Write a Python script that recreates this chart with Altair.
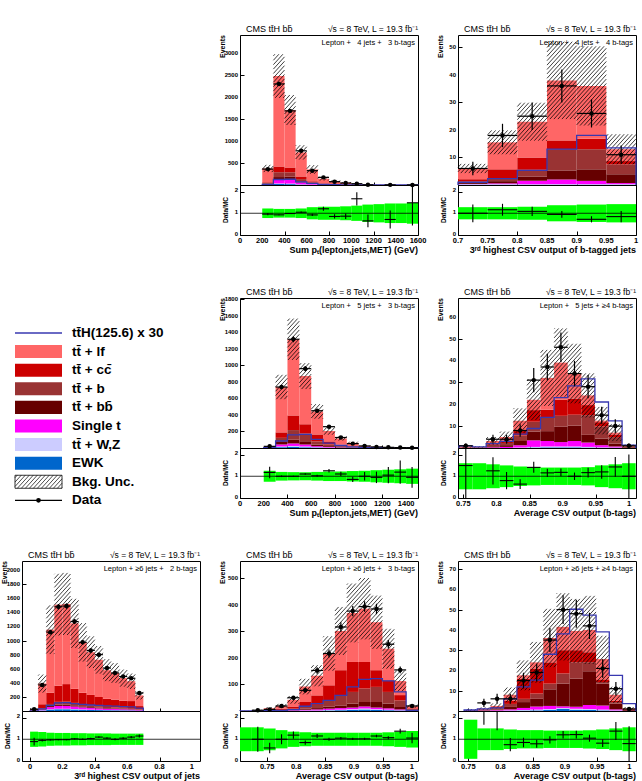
import math
import altair as alt
import pandas as pd

# ---------------- values ----------------
# stacking order bottom -> top : EWK, tt+W/Z, single t, tt+bb, tt+b, tt+cc, tt+lf
A_lf = [313, 2050, 1303, 546, 268, 107, 65, 39, 13.2, 5.5, 3.5, 3, 2.3, 0.95]
A_cc = [15, 130, 110, 60, 25, 11, 7, 4, 1.5, 0.7, 0.5, 0.3, 0.2, 0.1]
A_b = [15, 110, 100, 50, 20, 9, 6, 3, 1.2, 0.5, 0.3, 0.3, 0.2, 0.1]
A_bb = [10, 50, 50, 25, 12, 5, 3, 2, 0.7, 0.3, 0.2, 0.2, 0.1, 0.1]
A_st = [15, 95, 105, 45, 20, 8, 5, 3, 1, 0.5, 0.3, 0.3, 0.2, 0.1]
A_ttv = [2, 10, 12, 6, 3, 1.5, 1, 0.5, 0.2, 0.1, 0.1, 0.1, 0, 0]
A_ewk = [5, 25, 20, 8, 4, 2, 1, 0.5, 0.2, 0.1, 0.1, 0, 0, 0]
A_tth = [15, 125, 130, 70, 35, 15, 8, 4, 2, 1, 0.6, 0.4, 0.2, 0.1]
A_data = [360, 2290, 1680, 775, 325, 173, 75, 45, 30, 5, 0, 3, 0, 2]
A_unc = [0.22, 0.2, 0.2, 0.22, 0.28, 0.3, 0.3, 0.32, 0.35, 0.4, 0.42, 0.45, 0.45, 0.48]

B_lf = [3.9, 9.8, 13, 21.8, 19.2, 4.3]
B_cc = [0.8, 3.5, 4.5, 3.2, 3.8, 1.2]
B_b = [0.4, 0.8, 2.5, 7.7, 7.3, 3.6]
B_bb = [0.5, 0.8, 1.5, 3.3, 4.2, 3.2]
B_st = [0.1, 0.3, 1.2, 1.7, 1.2, 0.4]
B_ttv = [0.2, 0.2, 0.2, 0.2, 0.2, 0.2]
B_ewk = [0.1, 0.1, 0.1, 0.1, 0.1, 0.1]
B_tth = [1, 2.3, 5.3, 13, 18, 13.5]
B_data = [6, 18, 25, 36, 26, 11]
B_unc = [0.28, 0.28, 0.3, 0.37, 0.4, 0.42]

C_lf = [10.9, 549, 922, 583, 278, 126, 75, 43, 17, 9.8, 5.5, 2.8, 2.8]
C_cc = [2, 66, 177, 111, 84, 37, 18, 8, 3, 1.5, 0.8, 0.5, 0.5]
C_b = [1.5, 50, 117, 94, 40, 20, 10, 5, 2, 1, 0.5, 0.3, 0.3]
C_bb = [1, 30, 45, 39, 18, 10, 5, 2, 1, 0.5, 0.3, 0.2, 0.2]
C_st = [1, 25, 30, 25, 12, 8, 4, 2, 1, 0.5, 0.3, 0.2, 0.2]
C_ttv = [0.3, 8, 10, 8, 4, 2, 1, 1, 0.5, 0.2, 0.1, 0.1, 0.1]
C_ewk = [0.3, 10, 15, 10, 6, 3, 2, 1, 0.5, 0.2, 0.1, 0.1, 0.1]
C_tth = [3, 85, 160, 165, 105, 60, 30, 14, 7, 4, 2, 1, 0.5]
C_data = [20, 738, 1316, 960, 451, 258, 127, 53, 25, 13, 8, 5, 4]
C_unc = [0.25, 0.2, 0.19, 0.18, 0.2, 0.22, 0.22, 0.24, 0.25, 0.28, 0.3, 0.32, 0.35]

D_lf = [0.27, 0.2, 0.9, 1.7, 4.3, 4.7, 14.5, 16.9, 11.4, 4.4, 0.7, 0.8, 0.2]
D_cc = [0.1, 0.1, 0.8, 1, 2.5, 5.3, 3.8, 7.4, 7.4, 4.6, 2, 1.2, 0.2]
D_b = [0.1, 0.1, 0.7, 1, 2.5, 4.5, 6, 5, 5, 9, 5.5, 3, 0.3]
D_bb = [0.1, 0.1, 0.5, 0.8, 2, 4, 4.5, 7, 7, 3.5, 3, 1.3, 0.3]
D_st = [0.1, 0, 0.3, 0.5, 1, 3, 2.5, 2, 2.5, 2, 1, 0.5, 0]
D_ttv = [0, 0, 0, 0, 0.2, 0.3, 0.4, 0.4, 0.4, 0.3, 0.2, 0.1, 0]
D_ewk = [0, 0, 0, 0, 0, 0.2, 0.3, 0.3, 0.3, 0.2, 0.1, 0.1, 0]
D_tth = [1, 0.5, 2, 3, 6.3, 8.9, 14, 23, 28.4, 31.6, 21, 12.4, 1.3]
D_data = [1, 0, 4, 4, 8, 31, 37, 46, 34, 28, 15, 10, 1]
D_unc = [0.6, 0.6, 0.55, 0.5, 0.45, 0.42, 0.4, 0.4, 0.4, 0.42, 0.5, 0.55, 0.6]

E_lf = [22.5, 293, 895, 1150, 1138, 930, 716, 607, 528, 407, 378, 321, 282, 152]
E_cc = [2, 60, 160, 230, 250, 200, 165, 150, 130, 115, 110, 100, 100, 45]
E_b = [1, 10, 30, 38, 40, 34, 28, 24, 21, 18, 16, 14, 13, 8]
E_bb = [0.5, 5, 15, 20, 20, 18, 15, 12, 11, 9, 8, 7, 6, 4]
E_st = [1, 12, 30, 40, 40, 35, 28, 23, 20, 17, 15, 13, 12, 7]
E_ttv = [0, 2, 5, 7, 7, 6, 5, 4, 4, 3, 3, 3, 2, 1]
E_ewk = [1, 8, 20, 25, 25, 22, 18, 15, 13, 11, 10, 9, 8, 5]
E_tth = [2, 30, 80, 115, 118, 105, 95, 85, 80, 72, 68, 62, 58, 40]
E_data = [25, 370, 1120, 1480, 1490, 1270, 975, 860, 800, 610, 540, 490, 465, 255]
E_unc = [0.35, 0.33, 0.3, 0.29, 0.29, 0.28, 0.28, 0.27, 0.27, 0.27, 0.26, 0.26, 0.26, 0.26]

F_lf = [0.5, 1.7, 6, 10.8, 25, 58, 74, 120, 148, 185, 201, 181, 119, 53, 8]
F_cc = [0, 0.5, 2, 4, 8, 17, 36, 56, 95, 113, 100, 63, 44, 20, 3]
F_b = [0, 0.4, 1, 2, 4, 8, 12, 25, 38, 44, 51, 57, 44, 25, 4]
F_bb = [0, 0.2, 0.5, 1, 2, 4, 5, 7, 10, 15, 17, 21, 18, 9, 2]
F_st = [0, 0.2, 0.5, 1, 2, 3, 4, 5, 6, 6, 8, 6, 5, 3, 0.5]
F_ttv = [0, 0, 0, 0.2, 0.5, 1, 1, 2, 2, 3, 3, 3, 2, 1, 0.2]
F_ewk = [0, 0, 0, 0, 0.5, 1, 1, 2, 3, 4, 6, 4, 3, 2, 0.3]
F_tth = [0.2, 0.5, 1, 2, 5, 18, 28, 40, 59, 91, 119, 122, 114, 72, 2]
F_data = [0, 3, 6, 19, 50, 78, 153, 217, 317, 377, 394, 385, 252, 155, 19]
F_unc = [0.55, 0.55, 0.5, 0.42, 0.35, 0.32, 0.3, 0.3, 0.3, 0.3, 0.3, 0.3, 0.32, 0.35, 0.38]

G_lf = [0.1, 0.3, 0.6, 3, 1.6, 3, 12, 11.5, 9.5, 11, 10, 3, 0.25]
G_cc = [0.1, 0.2, 0.5, 1.5, 10, 12.4, 10.5, 11.5, 6, 5, 1.3, 0.6, 0.2]
G_b = [0.1, 0.3, 0.6, 1.5, 1.6, 2.6, 2.8, 5, 8, 4.4, 0.8, 0.8, 0.3]
G_bb = [0.1, 0.2, 0.4, 1.2, 2.9, 3.8, 8.2, 11.2, 13.9, 16.6, 10.8, 2.8, 0.4]
G_st = [0.1, 0.2, 0.3, 0.5, 1, 1.5, 1.5, 0.8, 1, 2, 2, 0.5, 0.1]
G_ttv = [0, 0, 0.1, 0.2, 0.3, 0.4, 0.5, 0.5, 0.6, 0.5, 0.4, 0.2, 0]
G_ewk = [0, 0, 0, 0.1, 0.2, 0.3, 0.5, 1, 0.5, 0.5, 0.3, 0.1, 0]
G_tth = [0.5, 1, 1.5, 6, 11.9, 15.2, 28, 38, 50.2, 47.3, 39, 17.6, 3.6]
G_data = [0, 4, 6, 6, 15, 19, 35, 50, 48, 42, 21, 11, 1]
G_unc = [0.9, 0.5, 0.5, 0.45, 0.42, 0.42, 0.4, 0.4, 0.4, 0.42, 0.45, 0.5, 0.55]

# tick labels
A_xticks = [0, 200, 400, 600, 800, 1000, 1200, 1400, 1600]
A_yticks = [500, 1000, 1500, 2000, 2500, 3000]
B_xticks = [0.7, 0.75, 0.8, 0.85, 0.9, 0.95, 1]
B_yticks = [10, 20, 30, 40, 50]
C_xticks = [0, 200, 400, 600, 800, 1000, 1200, 1400]
C_yticks = [200, 400, 600, 800, 1000, 1200, 1400, 1600, 1800]
D_xticks = [0.75, 0.8, 0.85, 0.9, 0.95, 1]
D_yticks = [10, 20, 30, 40, 50, 60]
E_xticks = [0, 0.2, 0.4, 0.6, 0.8, 1]
E_yticks = [200, 400, 600, 800, 1000, 1200, 1400, 1600, 1800, 2000]
F_xticks = [0.75, 0.8, 0.85, 0.9, 0.95, 1]
F_yticks = [100, 200, 300, 400, 500]
G_xticks = [0.75, 0.8, 0.85, 0.9, 0.95, 1]
G_yticks = [10, 20, 30, 40, 50, 60, 70]
R_yticks = [0, 1, 2]

COMPS = ["EWK", "tt+W,Z", "Single t", "tt+bb", "tt+b", "tt+cc", "tt+lf"]
COLORS = ["#0066cc", "#ccccff", "#ff00ff", "#660000", "#993333", "#cc0000", "#ff6666"]

LEG_LABELS = ["tt\u0304H(125.6) x 30", "tt\u0304 + lf", "tt\u0304 + cc\u0304", "tt\u0304 + b",
              "tt\u0304 + bb\u0304", "Single t", "tt\u0304 + W,Z", "EWK", "Bkg. Unc.", "Data"]
LEG_COMPS = ["tt+lf", "tt+cc", "tt+b", "tt+bb", "Single t", "tt+W,Z", "EWK"]

# ---------------- style / layout ----------------
W, HM, HR, GAP = 178, 150, 50, 63
RMAX = 2.3
FONT = "Liberation Sans"
TTH_COLOR = "#3838b0"
BAND = "#00ff00"
HDR_L = "CMS tt\u0304H bb\u0304"
HDR_R = "\u221as = 8 TeV, L = 19.3 fb\u207b\u00b9"
SP = "\u2007"


def fmt(v):
    return f"{v:g}"


def hatch(rects, xdom, ydom, w, h, step=4.0, slope=1.1, clip=True):
    sx = w / (xdom[1] - xdom[0])
    sy = h / (ydom[1] - ydom[0])
    out = []
    for x0, x1, y0, y1 in rects:
        if clip:
            y0 = max(y0, ydom[0]); y1 = min(y1, ydom[1])
            x0 = max(x0, xdom[0]); x1 = min(x1, xdom[1])
        if y1 <= y0 or x1 <= x0:
            continue
        px0, px1 = (x0 - xdom[0]) * sx, (x1 - xdom[0]) * sx
        py0, py1 = (y0 - ydom[0]) * sy, (y1 - ydom[0]) * sy
        kmin = math.floor((px0 - py1 / slope) / step) - 1
        kmax = math.ceil((px1 - py0 / slope) / step) + 1
        for k in range(kmin, kmax + 1):
            c = k * step
            xa = max(px0, c + py0 / slope)
            xb = min(px1, c + py1 / slope)
            if xb - xa < 0.1:
                continue
            out.append({"xa": xdom[0] + xa / sx, "xb": xdom[0] + xb / sx,
                        "ya": ydom[0] + slope * (xa - c) / sy,
                        "yb": ydom[0] + slope * (xb - c) / sy})
    return out


def txt(s, x, y, align, size, weight="normal", baseline="alphabetic", angle=0):
    return alt.Chart(alt.Data(values=[{"t": s}])).mark_text(
        align=align, baseline=baseline, fontSize=size, font=FONT, angle=angle,
        fontWeight=weight, color="black").encode(
        text="t:N", x=alt.value(x), y=alt.value(y))


def ylabels(ticks, sc, size=6, dy=0):
    df = pd.DataFrame({"v": ticks, "s": [fmt(t) for t in ticks]})
    return alt.Chart(df).mark_text(align="right", baseline="middle", fontSize=size, dy=dy,
                                   fontWeight="bold", font=FONT, color="black").encode(
        x=alt.value(-2), y=alt.Y("v:Q", scale=sc), text="s:N")


def xlabels(ticks, sc, h, size=7.5):
    df = pd.DataFrame({"v": ticks, "s": [fmt(t) for t in ticks]})
    return alt.Chart(df).mark_text(align="center", baseline="top", fontSize=size,
                                   fontWeight="bold", font=FONT, color="black").encode(
        x=alt.X("v:Q", scale=sc), y=alt.value(h + 2), text="s:N")


def panel(comps, tth, data, unc, start, step, xdom, ydom, yticks, xticks, xtitle, label):
    n = len(data)
    edges = [start + i * step for i in range(n + 1)]
    stack_rows, totals = [], []
    for i in range(n):
        cum = 0.0
        for name, arr in zip(COMPS, comps):
            v = arr[i]
            if v > 0:
                stack_rows.append({"x0": edges[i], "x1": edges[i + 1],
                                   "y0": cum, "y1": cum + v, "comp": name})
            cum += v
        totals.append(cum)
    rects = [(edges[i], edges[i + 1], totals[i] * (1 - unc[i]), totals[i] * (1 + unc[i]))
             for i in range(n) if totals[i] > 0]
    df_h = pd.DataFrame(hatch(rects, xdom, ydom, W, HM))
    tth_rows = [{"x": edges[0], "y": 0, "o": 0}]
    for i in range(n):
        tth_rows.append({"x": edges[i], "y": tth[i], "o": i + 1})
    tth_rows.append({"x": edges[n], "y": tth[n - 1], "o": n + 1})
    tth_rows.append({"x": edges[n], "y": 0, "o": n + 2})
    pts, rat, band = [], [], []
    for i in range(n):
        c = 0.5 * (edges[i] + edges[i + 1])
        band.append({"x0": edges[i], "x1": edges[i + 1],
                     "lo": max(0.0, 1 - unc[i]), "hi": min(RMAX, 1 + unc[i])})
        d = data[i]
        if d > 0:
            e = math.sqrt(d)
            pts.append({"c": c, "x0": edges[i], "x1": edges[i + 1], "d": d,
                        "lo": d - e, "hi": d + e})
            r, re = d / totals[i], e / totals[i]
            rat.append({"c": c, "x0": edges[i], "x1": edges[i + 1], "r": r,
                        "lo": max(0.0, r - re), "hi": r + re})
    df_s, df_t = pd.DataFrame(stack_rows), pd.DataFrame(tth_rows)
    df_p, df_r, df_b = pd.DataFrame(pts), pd.DataFrame(rat), pd.DataFrame(band)

    xsc = alt.Scale(domain=xdom, nice=False, zero=False)
    ysc = alt.Scale(domain=ydom, nice=False, zero=False)
    rsc = alt.Scale(domain=[0, RMAX], nice=False, zero=False)

    xm_axis = alt.Axis(labels=False, title=None, values=xticks, tickSize=3, offset=-3,
                       domain=False, grid=False)
    ym_axis = alt.Axis(labels=False, title=None, values=yticks, tickSize=4, offset=-4,
                       domain=False, grid=False)
    stack = alt.Chart(df_s).mark_rect().encode(
        x=alt.X("x0:Q", scale=xsc, axis=xm_axis), x2="x1:Q",
        y=alt.Y("y0:Q", scale=ysc, axis=ym_axis), y2="y1:Q",
        color=alt.Color("comp:N", scale=alt.Scale(domain=COMPS, range=COLORS), legend=None))
    hat = alt.Chart(df_h).mark_rule(color="black", strokeWidth=0.75).encode(
        x=alt.X("xa:Q", scale=xsc), x2="xb:Q", y=alt.Y("ya:Q", scale=ysc), y2="yb:Q")
    line = alt.Chart(df_t).mark_line(interpolate="step-after", color=TTH_COLOR,
                                     strokeWidth=1.3).encode(
        x=alt.X("x:Q", scale=xsc), y=alt.Y("y:Q", scale=ysc), order="o:Q")
    ev = alt.Chart(df_p).mark_rule(color="black", strokeWidth=1.2).encode(
        x=alt.X("c:Q", scale=xsc), y=alt.Y("lo:Q", scale=ysc), y2="hi:Q")
    eh = alt.Chart(df_p).mark_rule(color="black", strokeWidth=1.2).encode(
        x=alt.X("x0:Q", scale=xsc), x2="x1:Q", y=alt.Y("d:Q", scale=ysc))
    dots = alt.Chart(df_p).mark_circle(color="black", opacity=1, size=20).encode(
        x=alt.X("c:Q", scale=xsc), y=alt.Y("d:Q", scale=ysc))
    main = alt.layer(stack, hat, line, ev, eh, dots, ylabels(yticks, ysc),
                     txt("Events", -17, 0, "right", 7, "bold", "middle", 270),
                     txt(HDR_L, 6, -3, "left", 9),
                     txt(HDR_R, W, -3, "right", 8.5),
                     txt(label, W - 3, 10, "right", 7.5)).properties(width=W, height=HM)

    xr_axis = alt.Axis(labels=False, title=None, values=xticks, tickSize=4, offset=-4,
                       domain=False, grid=False)
    yr_axis = alt.Axis(labels=False, title=None, values=R_yticks, tickSize=4, offset=-4,
                       domain=False, grid=False)
    bnd = alt.Chart(df_b).mark_rect(color=BAND).encode(
        x=alt.X("x0:Q", scale=xsc, axis=xr_axis), x2="x1:Q",
        y=alt.Y("lo:Q", scale=rsc, axis=yr_axis), y2="hi:Q")
    one = alt.Chart(alt.Data(values=[{"v": 1}])).mark_rule(
        color="black", strokeWidth=0.8).encode(y=alt.Y("v:Q", scale=rsc))
    rv = alt.Chart(df_r).mark_rule(color="black", strokeWidth=1.1, clip=True).encode(
        x=alt.X("c:Q", scale=xsc), y=alt.Y("lo:Q", scale=rsc), y2="hi:Q")
    rh = alt.Chart(df_r).mark_rule(color="black", strokeWidth=1.1, clip=True).encode(
        x=alt.X("x0:Q", scale=xsc), x2="x1:Q", y=alt.Y("r:Q", scale=rsc))
    ratio = alt.layer(bnd, one, rv, rh, ylabels(R_yticks, rsc, dy=-1.5),
                      xlabels(xticks, xsc, HR),
                      txt("Data/MC", -14, HR / 2, "center", 6.5, "bold", "middle", 270),
                      txt(xtitle, W, HR + 14.5, "right", 9, "bold", "middle")
                      ).properties(width=W, height=HR)
    return main, ratio


def legend():
    top = 1.88
    lysc = alt.Scale(domain=[top - HM / 18.6, top], nice=False, zero=False)
    lxsc = alt.Scale(domain=[0, W], nice=False, zero=False)
    rows = [{"v": -(i + 1), "lo": -(i + 1) - 0.35, "hi": -(i + 1) + 0.35, "comp": c}
            for i, c in enumerate(LEG_COMPS)]
    sw = alt.Chart(pd.DataFrame(rows)).mark_rect().encode(
        x=alt.value(-7), x2=alt.value(40),
        y=alt.Y("lo:Q", scale=lysc, axis=None), y2="hi:Q",
        color=alt.Color("comp:N", scale=alt.Scale(domain=COMPS, range=COLORS), legend=None))
    tl = alt.Chart(alt.Data(values=[{"v": 0}])).mark_rule(
        color=TTH_COLOR, strokeWidth=1.5).encode(
        x=alt.value(-7), x2=alt.value(40), y=alt.Y("v:Q", scale=lysc, axis=None))
    unc_box = alt.Chart(alt.Data(values=[{"lo": -8.35, "hi": -7.65}])).mark_rect(
        fill="white", stroke="black", strokeWidth=0.8).encode(
        x=alt.value(-7), x2=alt.value(40),
        y=alt.Y("lo:Q", scale=lysc, axis=None), y2="hi:Q")
    segs = hatch([(-7, 40, -8.35, -7.65)], [0, W], lysc.domain, W, HM, clip=False)
    uh = alt.Chart(pd.DataFrame(segs)).mark_rule(color="black", strokeWidth=0.7).encode(
        x=alt.X("xa:Q", scale=lxsc, axis=None), x2="xb:Q",
        y=alt.Y("ya:Q", scale=lysc, axis=None), y2="yb:Q")
    dl = alt.Chart(alt.Data(values=[{"v": -9}])).mark_rule(
        color="black", strokeWidth=1.2).encode(
        x=alt.value(-7), x2=alt.value(40), y=alt.Y("v:Q", scale=lysc, axis=None))
    dp = alt.Chart(alt.Data(values=[{"v": -9}])).mark_circle(
        color="black", opacity=1, size=22).encode(
        x=alt.value(16.5), y=alt.Y("v:Q", scale=lysc, axis=None))
    labs = alt.Chart(pd.DataFrame({"t": LEG_LABELS, "v": [-i for i in range(len(LEG_LABELS))]})
                     ).mark_text(align="left", baseline="middle", fontSize=13.5,
                                 fontWeight="bold", font=FONT, color="black").encode(
        x=alt.value(50), y=alt.Y("v:Q", scale=lysc, axis=None), text="t:N")
    return alt.layer(sw, tl, unc_box, uh, dl, dp, labs).properties(
        width=W, height=HM, view=alt.ViewBackground(stroke="transparent"))


def blank(h):
    return alt.Chart(alt.Data(values=[{"a": 0}])).mark_point(opacity=0).encode(
        x=alt.value(0), y=alt.value(0)).properties(
        width=W, height=h, view=alt.ViewBackground(stroke="transparent"))


TPT = "Sum p\u209c(lepton,jets,MET) (GeV)"
AVG = "Average CSV output (b-tags)"

mA, rA = panel([A_ewk, A_ttv, A_st, A_bb, A_b, A_cc, A_lf], A_tth, A_data, A_unc,
               200, 100, [0, 1600], [0, 3400], A_yticks, A_xticks, TPT,
               "Lepton + " + SP + "4 jets + " + SP + "3 b-tags")
mB, rB = panel([B_ewk, B_ttv, B_st, B_bb, B_b, B_cc, B_lf], B_tth, B_data, B_unc,
               0.7, 0.05, [0.7, 1.0], [0, 54.5], B_yticks, B_xticks,
               "3\u02b3\u1d48 highest CSV output of b-tagged jets",
               "Lepton + " + SP + "4 jets + " + SP + "4 b-tags")
mC, rC = panel([C_ewk, C_ttv, C_st, C_bb, C_b, C_cc, C_lf], C_tth, C_data, C_unc,
               200, 100, [0, 1500], [0, 1815], C_yticks, C_xticks, TPT,
               "Lepton + " + SP + "5 jets + " + SP + "3 b-tags")
mD, rD = panel([D_ewk, D_ttv, D_st, D_bb, D_b, D_cc, D_lf], D_tth, D_data, D_unc,
               0.7435, 0.0205, [0.742, 1.0105], [0, 68.5], D_yticks, D_xticks, AVG,
               "Lepton + " + SP + "5 jets + \u22654 b-tags")
mE, rE = panel([E_ewk, E_ttv, E_st, E_bb, E_b, E_cc, E_lf], E_tth, E_data, E_unc,
               0.0, 0.05, [-0.05, 1.05], [0, 2130], E_yticks, E_xticks,
               "3\u02b3\u1d48 highest CSV output of jets",
               "Lepton + \u22656 jets + " + SP + "2 b-tags")
mF, rF = panel([F_ewk, F_ttv, F_st, F_bb, F_b, F_cc, F_lf], F_tth, F_data, F_unc,
               0.703, 0.0205, [0.703, 1.0105], [0, 566], F_yticks, F_xticks, AVG,
               "Lepton + \u22656 jets + " + SP + "3 b-tags")
mG, rG = panel([G_ewk, G_ttv, G_st, G_bb, G_b, G_cc, G_lf], G_tth, G_data, G_unc,
               0.7435, 0.0205, [0.734, 1.0105], [0, 74], G_yticks, G_xticks, AVG,
               "Lepton + \u22656 jets + \u22654 b-tags")

cells = [blank(HM), mA, mB,
         blank(HR), rA, rB,
         blank(GAP), blank(GAP), blank(GAP),
         legend(), mC, mD,
         blank(HR), rC, rD,
         blank(GAP), blank(GAP), blank(GAP),
         mE, mF, mG,
         rE, rF, rG]

chart = alt.concat(*cells, columns=3, spacing={"row": 0, "column": 40},
                   bounds="flush").properties(
    padding={"left": 0, "top": 24, "right": 0, "bottom": 0}
).configure(font=FONT).configure_view(stroke="black", strokeWidth=1).configure_axis(
    tickColor="black")

chart.save("out.html", embed_options={"renderer": "svg", "actions": False})
